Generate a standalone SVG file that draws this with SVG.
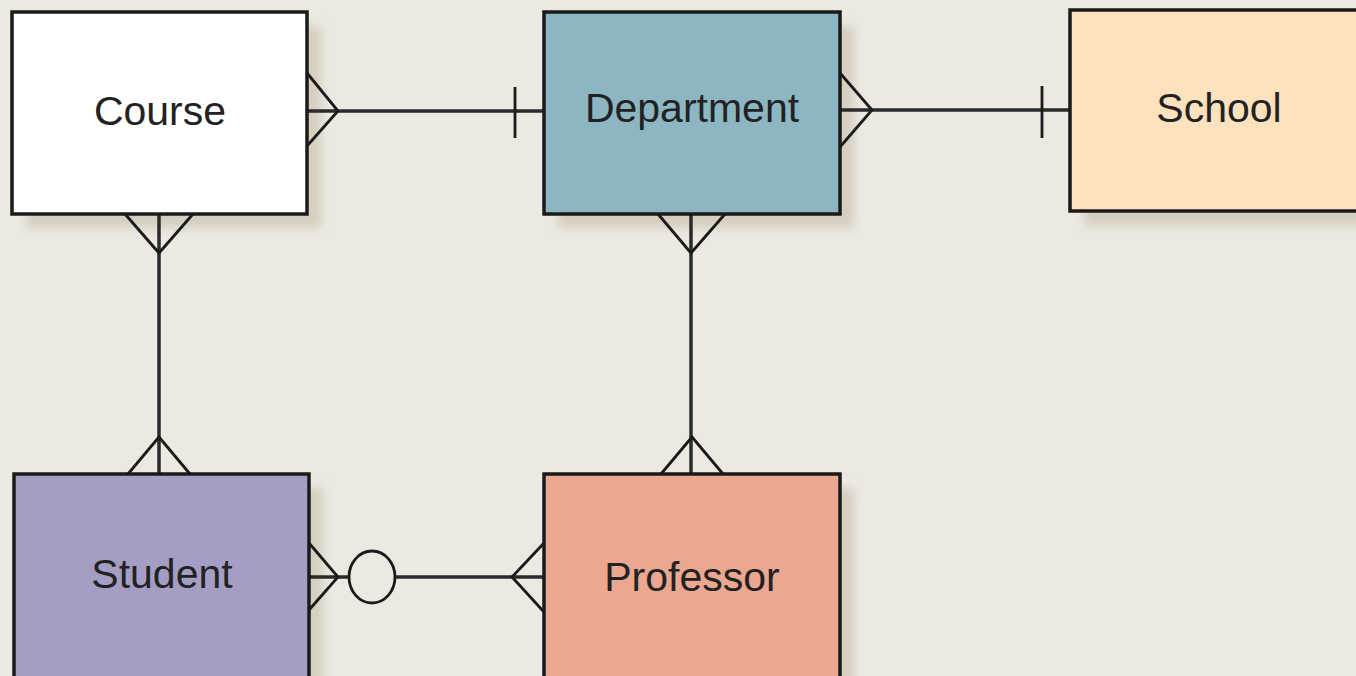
<svg xmlns="http://www.w3.org/2000/svg" width="1356" height="676" viewBox="0 0 1356 676">
<defs>
<filter id="sh" x="-20%" y="-20%" width="140%" height="140%">
<feGaussianBlur stdDeviation="5"/>
</filter>
<style>
.box{stroke:#1a1a1a;stroke-width:3.5}
.shadow{fill:#d6cfc0;filter:url(#sh)}
.lbl{font-family:"Liberation Sans",Arial,sans-serif;font-size:41px;fill:#222;text-anchor:middle;dominant-baseline:central}
.ln{stroke:#2a2a2a;stroke-width:3.5;fill:none}
.cf{stroke:#1a1a1a;stroke-width:2.8;fill:none}
</style>
</defs>
<rect width="1356" height="676" fill="#ece9e2"/>
<g id="shadows">
<rect class="shadow" x="26" y="26" width="295" height="202"/>
<rect class="shadow" x="558" y="26" width="296" height="202"/>
<rect class="shadow" x="1084" y="24" width="290" height="202"/>
<rect class="shadow" x="28" y="488" width="295" height="202"/>
<rect class="shadow" x="558" y="488" width="296" height="202"/>
</g>
<g id="connectors">
<line class="ln" x1="307" y1="111" x2="544" y2="111"/>
<polyline class="cf" points="307,73 338,111 307,146"/>
<line class="cf" x1="515" y1="87" x2="515" y2="138"/>
<line class="ln" x1="840" y1="110" x2="1070" y2="110"/>
<polyline class="cf" points="840,73 872,110 840,147"/>
<line class="cf" x1="1042" y1="86" x2="1042" y2="138"/>
<line class="ln" x1="159" y1="214" x2="159" y2="474"/>
<polyline class="cf" points="125,214 159,253 193,214"/>
<polyline class="cf" points="128,474 159,437 190,474"/>
<line class="ln" x1="691" y1="214" x2="691" y2="474"/>
<polyline class="cf" points="658,214 691,253 725,214"/>
<polyline class="cf" points="661,474 692,437 723,474"/>
<line class="ln" x1="309" y1="577" x2="544" y2="577"/>
<polyline class="cf" points="309,543 338,577 309,610"/>
<ellipse cx="372" cy="577" rx="23" ry="26" fill="#ece9e2" stroke="#1a1a1a" stroke-width="2.8"/>
<polyline class="cf" points="544,543 512,577 544,612"/>
</g>
<g id="course">
<rect class="box" x="12" y="12" width="295" height="202" fill="#ffffff"/>
<text class="lbl" x="160" y="111">Course</text>
</g>
<g id="department">
<rect class="box" x="544" y="12" width="296" height="202" fill="#8db6c3"/>
<text class="lbl" x="692" y="108">Department</text>
</g>
<g id="school">
<rect class="box" x="1070" y="10" width="300" height="201" fill="#fde2bd"/>
<text class="lbl" x="1219" y="108">School</text>
</g>
<g id="student">
<rect class="box" x="14" y="474" width="295" height="215" fill="#a59ec4"/>
<text class="lbl" x="162" y="574">Student</text>
</g>
<g id="professor">
<rect class="box" x="544" y="474" width="296" height="215" fill="#eba78f"/>
<text class="lbl" x="692" y="577">Professor</text>
</g>
</svg>
